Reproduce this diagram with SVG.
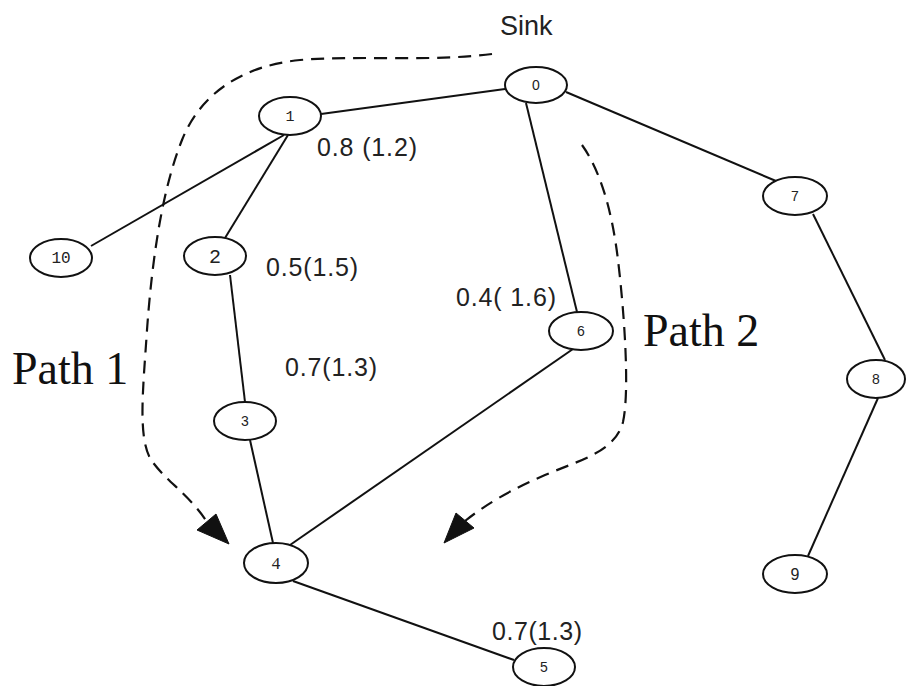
<svg xmlns="http://www.w3.org/2000/svg" width="906" height="686" viewBox="0 0 906 686">
  <style>
    .node ellipse { fill: #fff; stroke: #111; stroke-width: 2; }
    .nl { font-family: "Liberation Sans", Arial, sans-serif; font-size: 14px; text-anchor: middle; fill: #222; }
    .edge { stroke: #111; stroke-width: 2; fill: none; }
    .route { stroke: #111; stroke-width: 2.2; fill: none; stroke-dasharray: 13 8; }
    .head { fill: #111; stroke: #111; stroke-width: 1; stroke-linejoin: miter; }
    .w { font-family: "Liberation Sans", Arial, sans-serif; font-size: 25px; fill: #222; }
    .big { font-family: "Liberation Serif", "Times New Roman", serif; font-size: 46px; fill: #111; }
  </style>
  <rect width="906" height="686" fill="#fff"/>

  <g id="connectors">
    <line class="edge" x1="505" y1="89" x2="321" y2="114"/>
    <line class="edge" x1="526" y1="103" x2="577" y2="312"/>
    <line class="edge" x1="566" y1="92" x2="776" y2="181"/>
    <line class="edge" x1="284" y1="135" x2="91" y2="246"/>
    <line class="edge" x1="288" y1="135" x2="225" y2="238"/>
    <line class="edge" x1="230" y1="275" x2="245" y2="402"/>
    <line class="edge" x1="250" y1="440" x2="273" y2="543"/>
    <line class="edge" x1="573" y1="349" x2="290" y2="545"/>
    <line class="edge" x1="293" y1="581" x2="514" y2="660"/>
    <line class="edge" x1="813" y1="214" x2="885" y2="360"/>
    <line class="edge" x1="878" y1="398" x2="808" y2="556"/>
  </g>

  <g id="routes">
    <path class="route" d="M 492 54 C 430 62, 360 55, 300 60 C 240 66, 200 95, 182 140 C 162 190, 152 260, 147 330 C 143 390, 138 435, 150 458 C 162 478, 190 495, 207 522"/>
    <polygon class="head" points="197,530 216,514 229,544"/>
    <path class="route" d="M 582 145 C 600 170, 612 210, 618 260 C 624 310, 630 390, 623 422 C 615 452, 580 460, 545 475 C 510 490, 485 505, 465 521"/>
    <polygon class="head" points="456,513 474,528 444,543"/>
  </g>

  <g id="node0" class="node"><ellipse cx="536" cy="85" rx="31" ry="18"/><text class="nl" x="536" y="90">0</text></g>
  <g id="node1" class="node"><ellipse cx="290" cy="116" rx="31" ry="19"/><text class="nl" x="290" y="121" style="font-family:'Liberation Mono',monospace;font-size:15px">1</text></g>
  <g id="node2" class="node"><ellipse cx="215" cy="256" rx="31" ry="19"/><text class="nl" x="215" y="263" style="font-family:'Liberation Mono',monospace;font-size:20px">2</text></g>
  <g id="node3" class="node"><ellipse cx="245" cy="421" rx="31" ry="19"/><text class="nl" x="245" y="426">3</text></g>
  <g id="node4" class="node"><ellipse cx="276" cy="563" rx="32" ry="20"/><text class="nl" x="276" y="569" style="font-family:'Liberation Serif',serif;font-size:17px">4</text></g>
  <g id="node5" class="node"><ellipse cx="544" cy="667" rx="31" ry="19"/><text class="nl" x="544" y="672">5</text></g>
  <g id="node6" class="node"><ellipse cx="581" cy="331" rx="32" ry="19"/><text class="nl" x="581" y="336">6</text></g>
  <g id="node7" class="node"><ellipse cx="795" cy="196" rx="32" ry="19"/><text class="nl" x="795" y="201">7</text></g>
  <g id="node8" class="node"><ellipse cx="876" cy="379" rx="29" ry="19"/><text class="nl" x="876" y="384">8</text></g>
  <g id="node9" class="node"><ellipse cx="795" cy="574" rx="32" ry="19"/><text class="nl" x="795" y="580" style="font-size:16px">9</text></g>
  <g id="node10" class="node"><ellipse cx="61" cy="258" rx="31" ry="19"/><text class="nl" x="61" y="263" style="font-family:'Liberation Mono',monospace;font-size:16px">10</text></g>

  <g id="labels">
    <text class="w" x="500" y="35" style="font-size:27px">Sink</text>
    <text class="w" x="317" y="156" textLength="100">0.8 (1.2)</text>
    <text class="w" x="266" y="276" textLength="92">0.5(1.5)</text>
    <text class="w" x="456" y="306" textLength="100">0.4( 1.6)</text>
    <text class="w" x="285" y="376" textLength="92">0.7(1.3)</text>
    <text class="w" x="492" y="640" textLength="90">0.7(1.3)</text>
    <text class="big" x="12" y="384">Path 1</text>
    <text class="big" x="643" y="346">Path 2</text>
  </g>
</svg>
